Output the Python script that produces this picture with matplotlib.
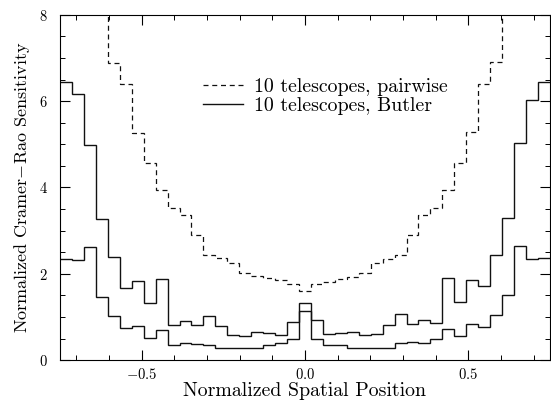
import numpy as np
import matplotlib
matplotlib.use("Agg")
import matplotlib.pyplot as plt
from matplotlib.ticker import MultipleLocator

plt.rcParams['font.family'] = 'serif'
plt.rcParams['font.serif'] = ['cmr10']
plt.rcParams['mathtext.fontset'] = 'cm'
plt.rcParams['axes.formatter.use_mathtext'] = True

# 41 bins across the normalized aperture, one centred on 0
n_bins = 41
x_min, x_max = -0.75, 0.75

# dashed: 10 telescopes, pairwise (bins 0-3 and 37-40 are off scale)
pairwise = [10, 10, 10, 10,
            6.88, 6.39, 5.26, 4.57, 3.94, 3.53, 3.37, 2.91, 2.43, 2.37,
            2.24, 2.02, 1.94, 1.91, 1.85, 1.77, 1.60,
            1.77, 1.81, 1.89, 1.93, 2.02, 2.24, 2.35, 2.43, 2.91, 3.37,
            3.53, 3.95, 4.57, 5.28, 6.39, 6.91,
            10, 10, 10, 10]

# upper solid: 10 telescopes, Butler
butler = [6.44, 6.17, 4.98, 3.26, 2.38, 1.68, 1.84, 1.33, 1.89, 0.81,
          0.90, 0.81, 1.03, 0.79, 0.59, 0.56, 0.66, 0.62, 0.58, 0.88,
          1.32,
          0.92, 0.60, 0.63, 0.66, 0.58, 0.60, 0.81, 1.06, 0.83, 0.93,
          0.85, 1.91, 1.35, 1.85, 1.71, 2.43, 3.29, 5.02, 6.03, 6.44]

# lower solid curve
lower = [2.35, 2.31, 2.63, 1.47, 1.02, 0.75, 0.79, 0.52, 0.69, 0.36,
         0.40, 0.37, 0.35, 0.29, 0.29, 0.29, 0.29, 0.35, 0.39, 0.50,
         1.13,
         0.49, 0.36, 0.35, 0.29, 0.29, 0.29, 0.27, 0.39, 0.42, 0.39,
         0.50, 0.72, 0.56, 0.83, 0.77, 1.04, 1.50, 2.65, 2.34, 2.37]


def main():
    edges = np.linspace(x_min, x_max, n_bins + 1)

    fig = plt.figure(figsize=(5.51, 4.01), dpi=100)
    ax = fig.add_axes([0.109, 0.102, 0.889, 0.861])

    ax.stairs(pairwise, edges, baseline=None, color='#111111', lw=0.9,
              linestyle=(0, (4, 3)), label='10 telescopes, pairwise')
    ax.stairs(butler, edges, baseline=None, color='#111111', lw=1.0,
              label='10 telescopes, Butler')
    ax.stairs(lower, edges, baseline=None, color='#111111', lw=1.0)

    ax.set_xlim(x_min, x_max)
    ax.set_ylim(0, 8)
    ax.xaxis.set_major_locator(MultipleLocator(0.5))
    ax.xaxis.set_minor_locator(MultipleLocator(0.1))
    ax.yaxis.set_major_locator(MultipleLocator(2))
    ax.yaxis.set_minor_locator(MultipleLocator(0.5))
    ax.tick_params(which='both', direction='in', top=True, right=True,
                   labelsize=10.5)
    ax.tick_params(axis='y', pad=9)
    ax.tick_params(axis='x', pad=5)
    ax.tick_params(which='major', length=7, width=0.8)
    ax.tick_params(which='minor', length=3.5, width=0.7)
    for s in ax.spines.values():
        s.set_linewidth(0.8)

    ax.set_xlabel('Normalized Spatial Position', fontsize=14.3, labelpad=0)
    ax.set_ylabel('Normalized Cramer$-$Rao Sensitivity', fontsize=13,
                  labelpad=5)

    ax.legend(loc='upper left', bbox_to_anchor=(0.255, 0.87), frameon=False,
              fontsize=14.3, handlelength=2.0, handletextpad=0.6,
              labelspacing=0.05)

    fig.savefig('out.png', dpi=100)


if __name__ == "__main__":
    main()
